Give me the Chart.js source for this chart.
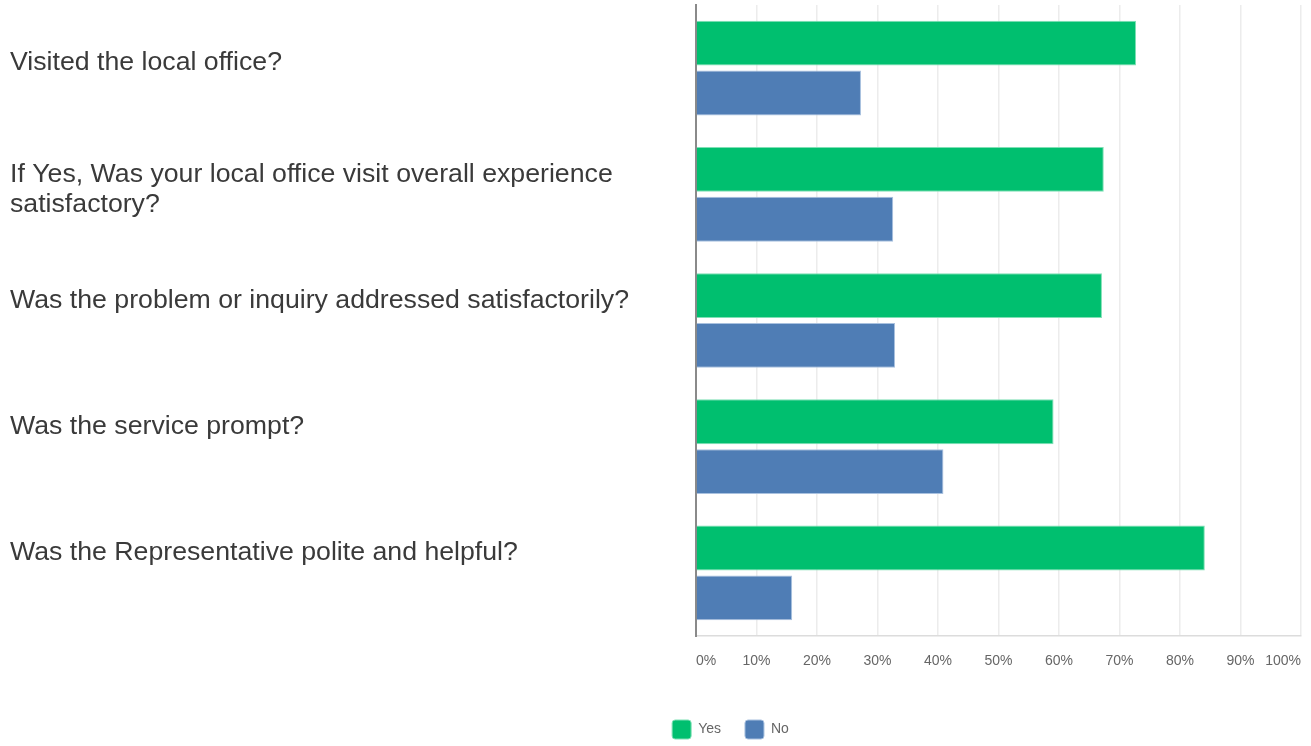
<!DOCTYPE html>
<html>
<head>
<meta charset="utf-8">
<title>Local office survey</title>
<script src="https://cdn.jsdelivr.net/npm/chart.js@4.4.0/dist/chart.umd.min.js"></script>
<style>
  html, body { margin: 0; padding: 0; background: #fff; }
  #wrap { width: 1311px; height: 746px; position: relative; }
</style>
</head>
<body>
<div id="wrap"><canvas id="myChart"></canvas></div>
<script>
// questions (a leading "" line nudges the first two labels down a little)
const questions = [
  ["", "Visited the local office?"],
  ["", "If Yes, Was your local office visit overall experience", "satisfactory?"],
  "Was the problem or inquiry addressed satisfactorily?",
  "Was the service prompt?",
  "Was the Representative polite and helpful?"
];
const yesValues = [72.73, 67.4, 67.1, 59.1, 84.1];
const noValues = [27.27, 32.6, 32.9, 40.9, 15.9];
const percentTicks = [0, 10, 20, 30, 40, 50, 60, 70, 80, 90, 100];

// moves the legend under the bars instead of the middle of the page
const legendShift = {
  id: "legendShift",
  afterLayout(chart) {
    let lg = chart.legend;
    lg.left += 75;
    lg.right += 75;
    lg.top += 3;
    lg.bottom += 3;
  }
};

let ctx = document.getElementById("myChart").getContext("2d");
let chart = new Chart(ctx, {
  type: "bar",
  data: {
    labels: questions,
    datasets: [
      {
        label: "Yes",
        data: yesValues,
        backgroundColor: "#00bf6f",
        borderColor: "#7fe0b5",
        borderWidth: 1,
        borderRadius: 0,
        categoryPercentage: 0.79,
        barPercentage: 0.9
      },
      {
        label: "No",
        data: noValues,
        backgroundColor: "#4f7db5",
        borderColor: "#a9c1df",
        borderWidth: 1,
        borderRadius: 0,
        categoryPercentage: 0.79,
        barPercentage: 0.9
      }
    ]
  },
  options: {
    indexAxis: "y",
    responsive: true,
    maintainAspectRatio: false,
    animation: false,
    layout: { padding: { top: 5, left: 10, right: 10, bottom: 0 } },
    plugins: {
      tooltip: { enabled: false },
      legend: {
        position: "bottom",
        labels: {
          boxWidth: 19,
          boxHeight: 19,
          padding: 24,
          color: "#666",
          useBorderRadius: true,
          borderRadius: 3,
          font: { family: "'Liberation Sans', Arial, sans-serif", size: 14 }
        }
      }
    },
    scales: {
      x: {
        min: 0,
        max: 100,
        afterBuildTicks: (scale) => {
          scale.ticks = percentTicks.map((v) => ({ value: v }));
        },
        afterFit: (scale) => {
          scale.height = 57;
          scale.paddingLeft = 0;
          scale.paddingRight = 0;
        },
        grid: { color: "#ececec", lineWidth: 1.5, drawTicks: false },
        border: { display: true, color: "#dcdcdc", width: 1.5 },
        ticks: {
          align: "inner",
          padding: 17,
          color: "#666",
          maxRotation: 0,
          font: { family: "'Liberation Sans', Arial, sans-serif", size: 14 },
          callback: (v) => v + "%"
        }
      },
      y: {
        afterFit: (scale) => {
          scale.width = 686;
          scale.paddingTop = 0;
          scale.paddingBottom = 0;
        },
        grid: { display: false },
        border: { display: true, color: "#8a8a8a", width: 2 },
        ticks: {
          crossAlign: "far",
          labelOffset: -20,
          color: "#3a3a3a",
          font: { family: "'Liberation Sans', Arial, sans-serif", size: 26.7, lineHeight: 1.124 }
        }
      }
    }
  },
  plugins: [legendShift]
});
</script>
</body>
</html>
